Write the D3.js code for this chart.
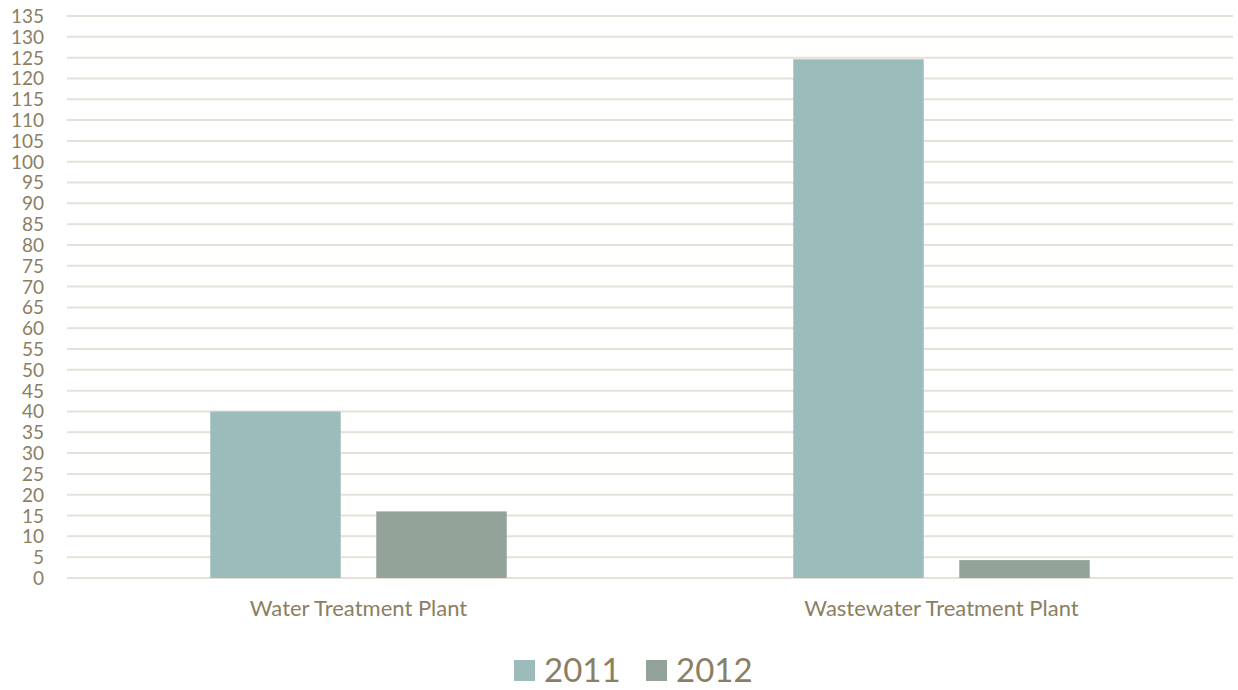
<!DOCTYPE html>
<html>
<head>
<meta charset="utf-8">
<script src="https://cdn.jsdelivr.net/npm/d3@7/dist/d3.min.js"></script>
<style>
  html, body { margin: 0; padding: 0; background: #ffffff; }
  svg { display: block; }
  text { font-family: Lato, "Open Sans", sans-serif; fill: #8b7e61; }
</style>
</head>
<body>
<svg id="chart" width="1238" height="690"></svg>
<script>
// Plant categories and yearly values
const categories = ["Water Treatment Plant", "Wastewater Treatment Plant"];
const seriesNames = ["2011", "2012"];
const values2011 = [40, 124.6];
const values2012 = [16, 4.3];
const yTicks = d3.range(0, 136, 5);
const seriesColors = ["#9bbcbb", "#93a39a"];

const svg = d3.select("#chart");
const margin = { top: 16, right: 5, bottom: 112, left: 67 };
const width = 1238, height = 690;
const innerW = width - margin.left - margin.right;
const innerH = height - margin.top - margin.bottom;

const g = svg.append("g").attr("transform", `translate(${margin.left},${margin.top})`);

const y = d3.scaleLinear().domain([0, 135]).range([innerH, 0]);
const x0 = d3.scaleBand().domain(categories).range([0, innerW]).padding(0);
const x1 = d3.scaleBand().domain(seriesNames).range([0, x0.bandwidth()])
  .paddingInner(0.214).paddingOuter(0.863);
const color = d3.scaleOrdinal().domain(seriesNames).range(seriesColors);

// Horizontal gridlines
g.append("g")
  .selectAll("line")
  .data(yTicks)
  .join("line")
  .attr("x1", 0).attr("x2", innerW)
  .attr("y1", d => y(d)).attr("y2", d => y(d))
  .attr("stroke", "#e5e1d8").attr("stroke-width", 2);

// Y axis labels
const yAxis = g.append("g")
  .attr("transform", "translate(-23,0)")
  .call(d3.axisLeft(y).tickValues(yTicks).tickSize(0).tickPadding(0));
yAxis.select(".domain").remove();
yAxis.selectAll("text")
  .style("font-size", "19px")
  .attr("dy", "0.34em");

// Bars
const rows = categories.map((c, i) => ({
  category: c,
  items: [
    { series: "2011", value: values2011[i] },
    { series: "2012", value: values2012[i] }
  ]
}));

g.append("g")
  .selectAll("g")
  .data(rows)
  .join("g")
  .attr("transform", d => `translate(${x0(d.category)},0)`)
  .selectAll("rect")
  .data(d => d.items)
  .join("rect")
  .attr("x", d => x1(d.series))
  .attr("width", x1.bandwidth())
  .attr("y", d => y(d.value))
  .attr("height", d => innerH - y(d.value))
  .attr("fill", d => color(d.series));

// Category axis labels
const xAxis = g.append("g")
  .attr("transform", `translate(0,${innerH})`)
  .call(d3.axisBottom(x0).tickSize(0).tickPadding(22));
xAxis.select(".domain").remove();
xAxis.selectAll("text").style("font-size", "22px");

// Legend
const legend = svg.append("g").attr("transform", "translate(514,660)");
const legendOffsets = [0, 132];
seriesNames.forEach((s, i) => {
  const lg = legend.append("g").attr("transform", `translate(${legendOffsets[i]},0)`);
  lg.append("rect").attr("width", 21).attr("height", 21).attr("fill", color(s));
  lg.append("text").attr("x", 30).attr("y", 22).style("font-size", "33px").text(s);
});
</script>
</body>
</html>
